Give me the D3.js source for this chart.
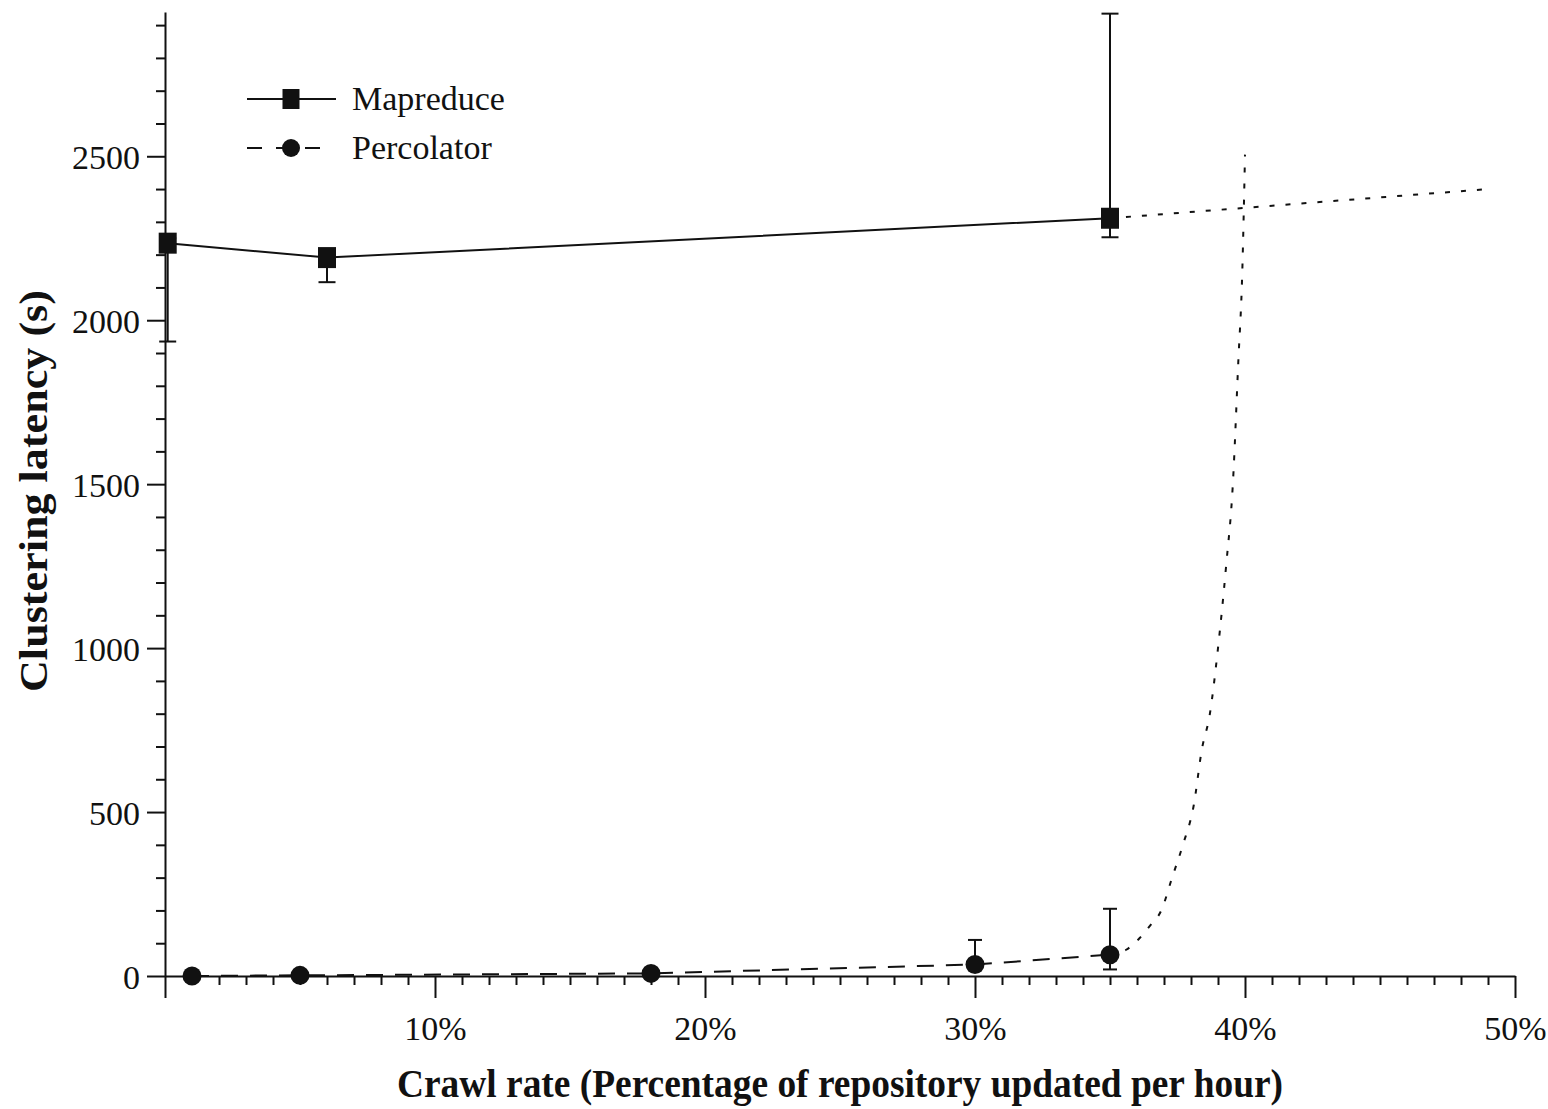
<!DOCTYPE html>
<html>
<head>
<meta charset="utf-8">
<script src="https://cdn.jsdelivr.net/npm/d3@7"></script>
<style>
	body { margin: 0; background: #fff; }
	text { font-family: "Liberation Serif", "Times New Roman", serif; fill: #111; }
</style>
</head>
<body>
<svg id="chart" width="1548" height="1109"></svg>
<script>
// values
var mapreduceX = [0.1, 6, 35];
var mapreduceY = [2235, 2191, 2311];
var mapreduceLo = [1935, 2116, 2253];
var mapreduceHi = [2250, 2200, 2935];
var mapreduceTrendX = [35, 49];
var mapreduceTrendY = [2311, 2400];

var percolatorX = [1, 5, 18, 30, 35];
var percolatorY = [0, 2, 8, 35, 65];
var percolatorErrX = [30, 35];
var percolatorErrLo = [25, 20];
var percolatorErrHi = [110, 205];
var percolatorTrendX = [35, 35.6, 36.1, 36.5, 36.9, 37.3, 37.7, 38.1, 38.4, 38.7, 39.0, 39.3, 39.55, 39.75, 39.9, 40.0];
var percolatorTrendY = [65, 80, 116, 155, 200, 300, 400, 520, 690, 800, 1000, 1250, 1500, 1870, 2150, 2505];

var xMajor = [0, 10, 20, 30, 40, 50];
var xLabels = ['', '10%', '20%', '30%', '40%', '50%'];
var yMajor = [0, 500, 1000, 1500, 2000, 2500];
var yLabels = ['0', '500', '1000', '1500', '2000', '2500'];
var seriesNames = ['Mapreduce', 'Percolator'];

var svg = d3.select('#chart');
var ink = '#111';

var x = d3.scaleLinear().domain([0, 50]).range([165, 1515]);
var y = d3.scaleLinear().domain([0, 2940]).range([976, 12]);

var xMinor = d3.range(0, 51).filter(function (d) { return d % 10 !== 0; });
var yMinor = d3.range(0, 2901, 100).filter(function (d) { return d % 500 !== 0; });

// minor ticks
svg.append('g')
	.attr('transform', 'translate(0,' + y(0) + ')')
	.call(d3.axisBottom(x).tickValues(xMinor).tickSize(9).tickSizeOuter(0).tickFormat(''))
	.call(function (g) { g.select('.domain').remove(); });
svg.append('g')
	.attr('transform', 'translate(' + x(0) + ',0)')
	.call(d3.axisLeft(y).tickValues(yMinor).tickSize(9).tickSizeOuter(0).tickFormat(''))
	.call(function (g) { g.select('.domain').remove(); });

// major ticks + axis lines
var xAxis = svg.append('g')
	.attr('transform', 'translate(0,' + y(0) + ')')
	.call(d3.axisBottom(x).tickValues(xMajor).tickSize(22).tickSizeOuter(0)
		.tickFormat(function (d, i) { return xLabels[i]; }));
xAxis.selectAll('text').attr('y', 64).attr('dy', 0)
	.style('font-size', '34px');

var yAxis = svg.append('g')
	.attr('transform', 'translate(' + x(0) + ',0)')
	.call(d3.axisLeft(y).tickValues(yMajor).tickSize(18).tickSizeOuter(0)
		.tickFormat(function (d, i) { return yLabels[i]; }));
yAxis.selectAll('text').attr('x', -25).attr('dy', '0.36em')
	.style('font-size', '34px');

svg.selectAll('.domain, .tick line').attr('stroke', ink).attr('stroke-width', 2);
svg.selectAll('.tick text').attr('fill', ink).attr('font-family', null);

// axis titles
svg.append('text')
	.attr('x', 840).attr('y', 1097)
	.attr('text-anchor', 'middle')
	.attr('textLength', 886).attr('lengthAdjust', 'spacingAndGlyphs')
	.style('font-size', '39px').style('font-weight', 'bold')
	.text('Crawl rate (Percentage of repository updated per hour)');

svg.append('text')
	.attr('transform', 'translate(47,491) rotate(-90)')
	.attr('text-anchor', 'middle')
	.attr('textLength', 402).attr('lengthAdjust', 'spacingAndGlyphs')
	.style('font-size', '41px').style('font-weight', 'bold')
	.text('Clustering latency (s)');

var line = d3.line().x(function (d) { return x(d[0]); }).y(function (d) { return y(d[1]); });
var curve = d3.line().curve(d3.curveMonotoneX).x(function (d) { return x(d[0]); }).y(function (d) { return y(d[1]); });

var mrPts = mapreduceX.map(function (d, i) { return [d, mapreduceY[i]]; });
var mrTrend = mapreduceTrendX.map(function (d, i) { return [d, mapreduceTrendY[i]]; });
var pcPts = percolatorX.map(function (d, i) { return [d, percolatorY[i]]; });
var pcTrend = percolatorTrendX.map(function (d, i) { return [d, percolatorTrendY[i]]; });

// trend (dotted) lines
svg.append('path').datum(mrTrend).attr('d', line)
	.attr('fill', 'none').attr('stroke', ink).attr('stroke-width', 2).attr('stroke-dasharray', '5,11');
svg.append('path').datum(pcTrend).attr('d', curve)
	.attr('fill', 'none').attr('stroke', ink).attr('stroke-width', 2).attr('stroke-dasharray', '5,11');

// series lines
svg.append('path').datum(mrPts).attr('d', line)
	.attr('fill', 'none').attr('stroke', ink).attr('stroke-width', 2);
svg.append('path').datum(pcPts).attr('d', line)
	.attr('fill', 'none').attr('stroke', ink).attr('stroke-width', 2).attr('stroke-dasharray', '17,12');

// error bars
function errorBars(xs, lo, hi, cap) {
	var g = svg.append('g').attr('stroke', ink).attr('stroke-width', 2);
	xs.forEach(function (d, i) {
		g.append('line').attr('x1', x(d)).attr('x2', x(d)).attr('y1', y(lo[i])).attr('y2', y(hi[i]));
		g.append('line').attr('x1', x(d) - cap / 2).attr('x2', x(d) + cap / 2).attr('y1', y(lo[i])).attr('y2', y(lo[i]));
		g.append('line').attr('x1', x(d) - cap / 2).attr('x2', x(d) + cap / 2).attr('y1', y(hi[i])).attr('y2', y(hi[i]));
	});
}
errorBars(mapreduceX, mapreduceLo, mapreduceHi, 17);
errorBars(percolatorErrX, percolatorErrLo, percolatorErrHi, 14);

// markers
svg.append('g').selectAll('rect').data(mrPts).join('rect')
	.attr('x', function (d) { return x(d[0]) - 9; })
	.attr('y', function (d) { return y(d[1]) - 10.5; })
	.attr('width', 18).attr('height', 21).attr('fill', ink);
svg.append('g').selectAll('circle').data(pcPts).join('circle')
	.attr('cx', function (d) { return x(d[0]); })
	.attr('cy', function (d) { return y(d[1]); })
	.attr('r', 9.5).attr('fill', ink);

// legend
var legend = svg.append('g');
legend.append('line').attr('x1', 247).attr('x2', 336).attr('y1', 99).attr('y2', 99)
	.attr('stroke', ink).attr('stroke-width', 2);
legend.append('rect').attr('x', 282.5).attr('y', 89).attr('width', 17).attr('height', 20).attr('fill', ink);
legend.append('line').attr('x1', 247).attr('x2', 322).attr('y1', 148).attr('y2', 148)
	.attr('stroke', ink).attr('stroke-width', 2).attr('stroke-dasharray', '15,14');
legend.append('circle').attr('cx', 291).attr('cy', 148).attr('r', 9).attr('fill', ink);
legend.selectAll('text').data(seriesNames).join('text')
	.attr('x', 352)
	.attr('y', function (d, i) { return 110 + i * 49; })
	.style('font-size', '34px')
	.text(function (d) { return d; });
</script>
</body>
</html>
